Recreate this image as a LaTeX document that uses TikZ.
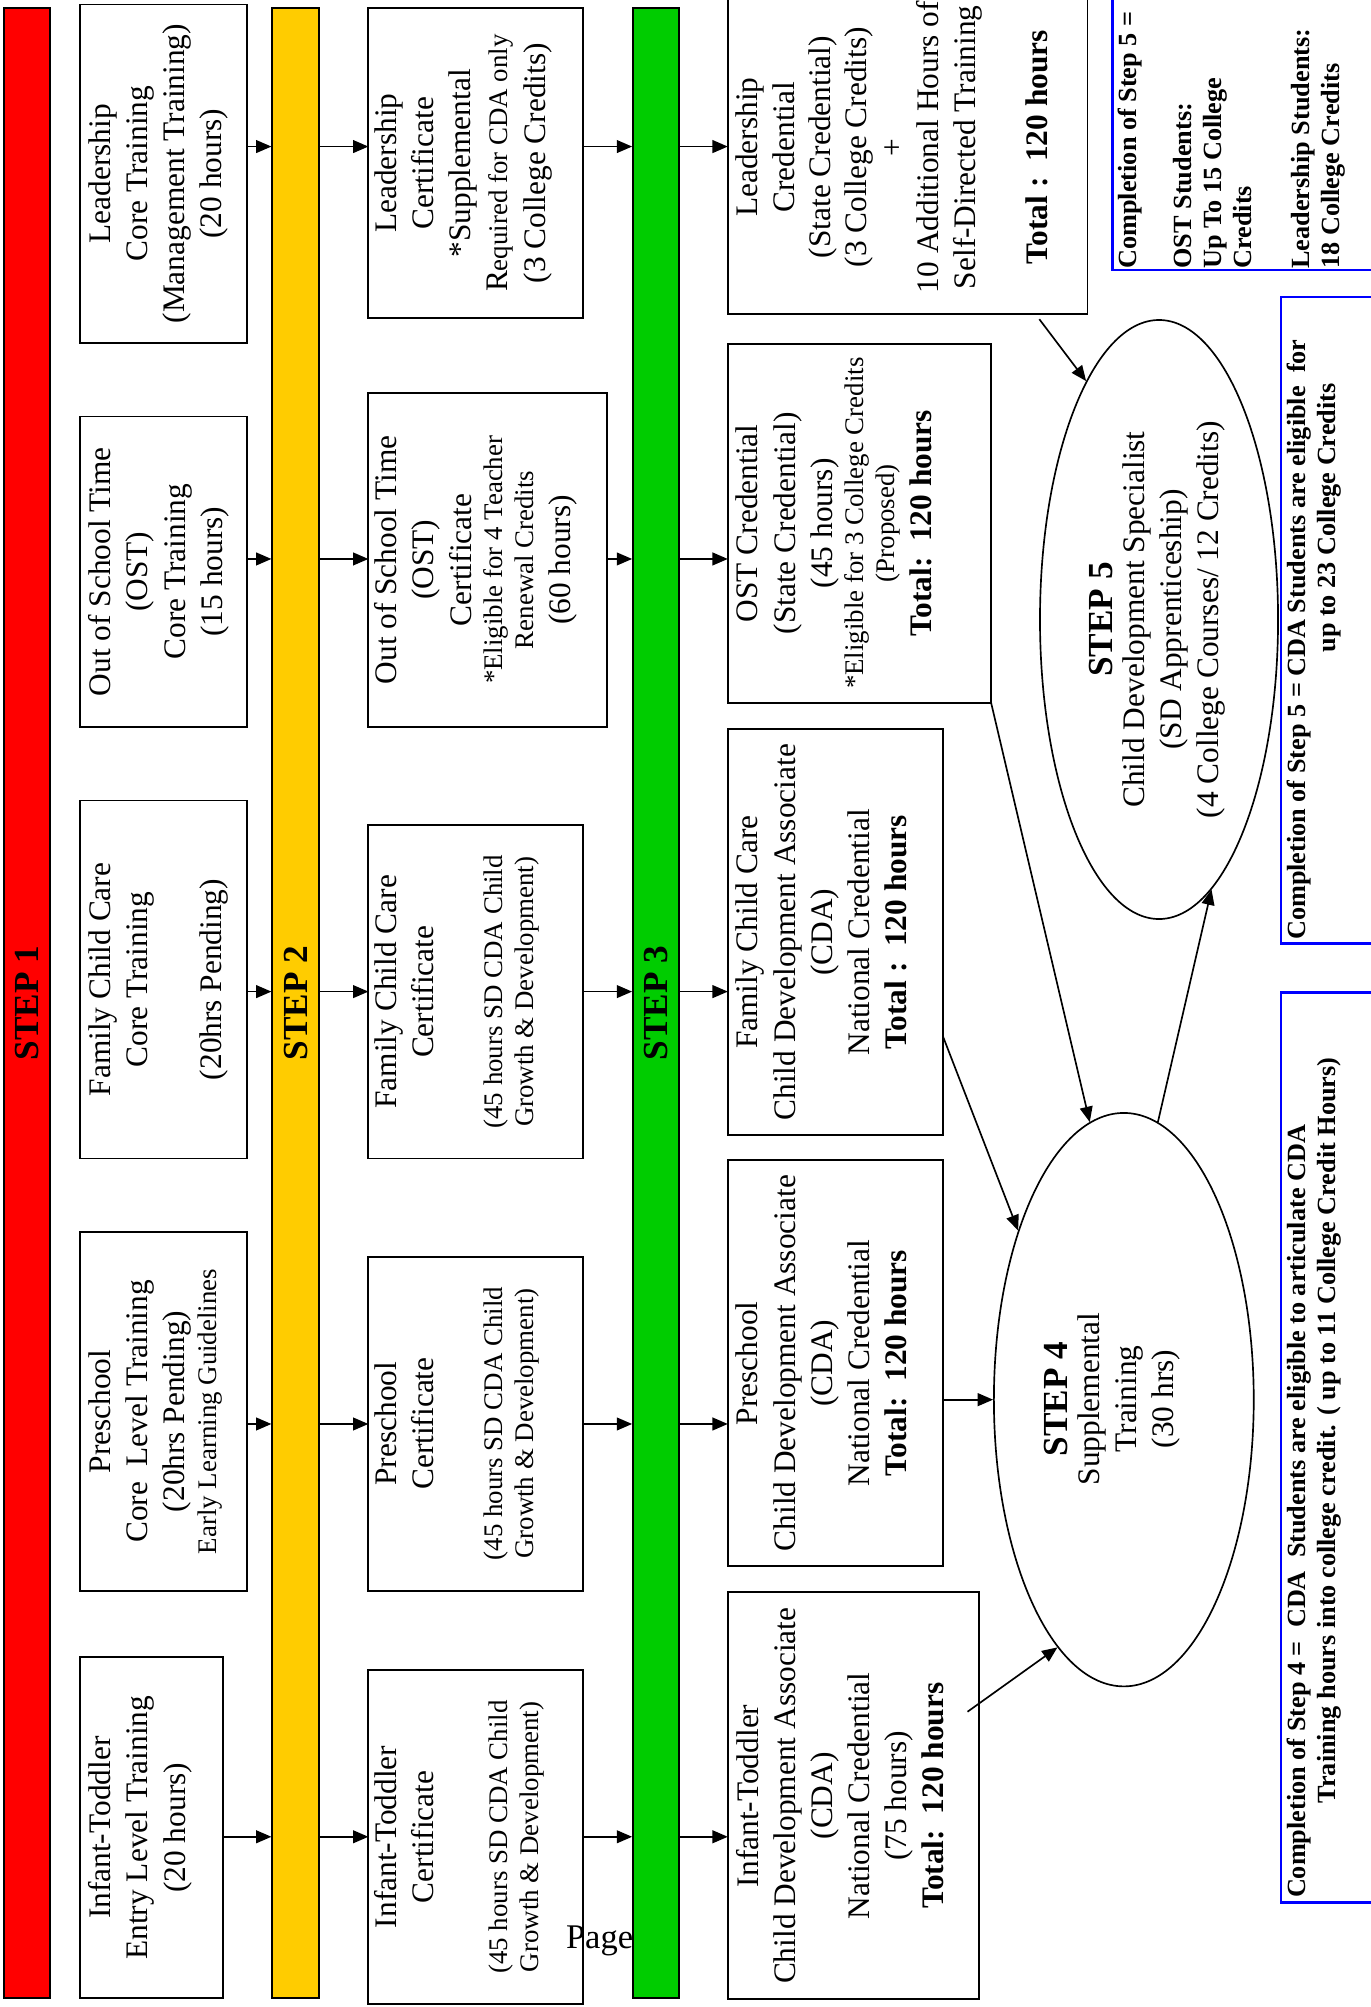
\documentclass[tikz,border=0pt]{standalone}
\usepackage{fontspec}
\setmainfont{Liberation Serif}
\usetikzlibrary{arrows.meta,shapes.geometric,calc}
\definecolor{stepred}{RGB}{255,0,0}
\definecolor{stepyellow}{RGB}{255,204,0}
\definecolor{stepgreen}{RGB}{0,204,0}
\newcommand\nfs{\fontsize{24.5}{29}\selectfont}
\newcommand\smfs{\fontsize{21}{24.5}\selectfont}
\newcommand\bluefs{\fontsize{20.5}{23.3}\selectfont\bfseries}
\newcommand\stepfs{\fontsize{27.5}{30}\selectfont\bfseries}
% #1 vertical length, #2 horizontal width, #3 top pad, #4 lines
\newcommand\rtext[4]{\rotatebox{90}{\parbox[c][#2pt][t]{#1pt}{\centering\nfs\vspace*{#3pt}#4}}}
\tikzset{
  box/.style={draw, line width=1.5pt, inner sep=0pt, outer sep=0pt},
  bar/.style={draw, line width=1.5pt, inner sep=0pt, minimum width=36.2pt, minimum height=1554.7pt},
  arr/.style={-{Triangle[length=12pt,width=10pt]}, line width=1.3pt},
  oval/.style={ellipse, draw, line width=1.3pt, inner sep=0pt},
  bluebox/.style={draw=blue, line width=2pt, inner sep=0pt},
  bluetext/.style={inner sep=0pt, anchor=south west},
  plain/.style={inner sep=0pt}
}
\begin{document}
\begin{tikzpicture}[x=1pt, y=-1pt]
\useasboundingbox (0,0) rectangle (1071,1568);
\clip (0,0) rectangle (1071,1568);
\coordinate (rL) at (0,114.5);
\coordinate (rO) at (0,436.7);
\coordinate (rF) at (0,774.7);
\coordinate (rP) at (0,1112.5);
\coordinate (rI) at (0,1435);

\node[anchor=base west, inner sep=0pt, font=\fontsize{27}{30}\selectfont] (pg) at (442,1522) {Page};

% bars
\node[bar, fill=stepred] (bar1) at (20.9,783.65) {\rotatebox{90}{\stepfs STEP 1}};
\node[bar, fill=stepyellow] (bar2) at (230.9,783.65) {\rotatebox{90}{\stepfs STEP 2}};
\node[bar, fill=stepgreen, minimum width=35.6pt] (bar3) at (512.4,783.65) {\rotatebox{90}{\stepfs STEP 3}};

% step 1 boxes
\node[box] (lead1) at (127.85,135.7) {\rtext{264.4}{130.1}{6.5}{Leadership\par Core Training\par (Management Training)\par (20 hours)\par}};
\node[box] (ost1) at (127.85,446.6) {\rtext{242.4}{130.1}{6.5}{Out of School Time\par (OST)\par Core Training\par (15 hours)\par}};
\node[box] (fcc1) at (127.85,765.25) {\rtext{279.7}{130.1}{6.5}{Family Child Care\par Core Training\par \mbox{}\par (20hrs Pending)\par}};
\node[box] (pre1) at (127.85,1102.7) {\rtext{280}{130.1}{6.5}{Preschool\par Core\ \ Level Training\par (20hrs Pending)\par {\smfs Early Learning Guidelines\par}}};
\node[box] (it1) at (118.6,1427.95) {\rtext{266.1}{111.6}{6.5}{Infant-Toddler\par Entry Level Training\par (20 hours)\par}};

% step 2 boxes
\node[box] (lead2) at (371.65,127.5) {\rtext{242.4}{167.7}{5}{Leadership\par Certificate\par *Supplemental\par R{\smfs equired for CDA only}\par (3 College Credits)\par}};
\node[box] (ost2) at (381.1,437.4) {\rtext{260.8}{186.6}{5}{Out of School Time\par (OST)\par Certificate\par {\smfs *Eligible for 4 Teacher\par Renewal Credits\par}(60 hours)\par}};
\node[box] (fcc2) at (371.65,774.85) {\rtext{260.5}{167.7}{5}{Family Child Care\par Certificate\par \mbox{}\par {\smfs (45 hours SD CDA Child\par Growth \& Development)\par}}};
\node[box] (pre2) at (371.65,1112.2) {\rtext{261}{167.7}{5}{Preschool\par Certificate\par \mbox{}\par {\smfs (45 hours SD CDA Child\par Growth \& Development)\par}}};
\node[box] (it2) at (371.65,1435.1) {\rtext{261}{167.7}{5}{Infant-Toddler\par Certificate\par \mbox{}\par\vspace{4pt}{\smfs (45 hours SD CDA Child\par Growth \& Development)\par}}};

% step 3 boxes
\node[box] (lead3) at (709.1,115) {\rtext{260}{281}{6.5}{\fontsize{24.5}{28.3}\selectfont Leadership\par Credential\par (State Credential)\par (3 College Credits)\par +\par 10 Additional Hours of\par Self-Directed Training\par \mbox{}\par \textbf{Total :\ \ 120 hours}\par}};
\node[box] (ost3) at (671.45,408.8) {\rtext{280.4}{205.7}{6.5}{OST Credential\par (State Credential)\par (45 hours)\par {\smfs *Eligible for 3 College Credits\par (Proposed)\par}\textbf{Total:\ \ 120 hours}\par}};
\node[box] (fcc3) at (652.75,728.3) {\rtext{317.4}{168.3}{6.5}{Family Child Care\par Child Development Associate\par (CDA)\par National Credential\par \textbf{Total :\ \ 120 hours}\par}};
\node[box] (pre3) at (652.75,1065) {\rtext{317.6}{168.3}{6.5}{Preschool\par Child Development Associate\par (CDA)\par National Credential\par \textbf{Total:\ \ 120 hours}\par}};
\node[box] (it3) at (666.8,1403) {\rtext{318}{196.4}{6.5}{Infant-Toddler\par Child Development Associate\par (CDA)\par National Credential\par (75 hours)\par \textbf{Total:\ \ 120 hours}\par}};

% ellipses
\node[oval, minimum width=203pt, minimum height=448pt] (s4) at (878,1093.5) {};
\node[plain] (s4t) at (869.4,1093) {\rotatebox{90}{\nfs\begin{tabular}{@{}c@{}}{\stepfs STEP 4}\\[-4pt] Supplemental\\ Training\\ (30 hrs)\end{tabular}}};
\node[oval, minimum width=186pt, minimum height=468pt] (s5) at (905.5,484) {};
\node[plain] (s5t) at (904.5,484) {\rotatebox{90}{\nfs\begin{tabular}{@{}c@{}}{\stepfs STEP 5}\\[-4pt] Child Development Specialist\\ (SD Apprenticeship)\\ (4 College Courses/ 12 Credits)\end{tabular}}};

% blue boxes
\node[bluebox, minimum width=231pt, minimum height=241pt] (blue1) at (984.5,90.5) {};
\node[bluebox, minimum width=99.3pt, minimum height=505pt] (blue2) at (1050.35,484.5) {};
\node[bluebox, minimum width=99.3pt, minimum height=711.1pt] (blue3) at (1050.35,1130.85) {};
\node[bluetext] (bt1) at ($(blue1.south west)+(3.2,-2)$) {\rotatebox{90}{\bluefs\begin{tabular}{@{}l@{}}Completion of Step 5 =\\[20.2pt] OST Students:\\ Up To 15 College\\ Credits\\[22.2pt] Leadership Students:\\ 18 College Credits\end{tabular}}};
\node[bluetext] (bt2) at ($(blue2.south west)+(3.5,-3.5)$) {\rotatebox{90}{\bluefs\begin{tabular}{@{}l@{}}Completion of Step 5 = CDA Students are eligible\ \ for\\ \hspace*{224.5pt}up to 23 College Credits\end{tabular}}};
\node[bluetext] (bt3) at ($(blue3.south west)+(3.5,-4.4)$) {\rotatebox{90}{\bluefs\begin{tabular}{@{}l@{}}Completion of Step 4 =\ \ CDA\ \ Students are eligible to articulate CDA\\ \hspace*{74pt}Training hours into college credit. ( up to 11 College Credit Hours)\end{tabular}}};

% row arrows
\foreach \r/\a/\b/\c in {rL/lead1/lead2/lead3, rO/ost1/ost2/ost3, rF/fcc1/fcc2/fcc3, rP/pre1/pre2/pre3, rI/it1/it2/it3} {
  \draw[arr] (\a.east |- \r) -- (bar2.west |- \r);
  \draw[arr] (bar2.east |- \r) -- (\b.west |- \r);
  \draw[arr] (\b.east |- \r) -- (bar3.west |- \r);
  \draw[arr] (bar3.east |- \r) -- (\c.west |- \r);
}

% connectors to steps 4 and 5
\draw[arr] ($(lead3.south east)+(-37.6,4.4)$) -- (s5.107.5);
\draw[arr] (ost3.south east) -- (s4.97.7);
\draw[arr] ($(fcc3.east)+(0,81.9)$) -- (s4.122);
\draw[arr] (s4.west -| pre3.east) -- (s4.west);
\draw[arr] ($(it3.east)+(-9.1,-65.7)$) -- (s4.255);
\draw[arr] (s4.83) -- (s5.281);
\end{tikzpicture}
\end{document}
